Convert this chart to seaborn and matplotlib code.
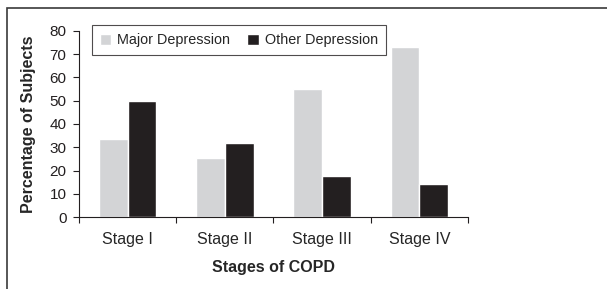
import matplotlib
matplotlib.use("Agg")
import matplotlib.pyplot as plt
import pandas as pd
import seaborn as sns
from matplotlib.patches import Rectangle

stages = ["Stage I", "Stage II", "Stage III", "Stage IV"]
major_depression = [33.5, 25.5, 55, 73]
other_depression = [50, 31.7, 17.7, 14]
series_names = ["Major Depression", "Other Depression"]
y_ticks = [0, 10, 20, 30, 40, 50, 60, 70, 80]

df = pd.DataFrame({
    "Stage": stages * 2,
    "Group": [series_names[0]] * 4 + [series_names[1]] * 4,
    "Value": major_depression + other_depression,
})

sns.set_style("ticks")
plt.rcParams["font.family"] = ["Liberation Sans", "DejaVu Sans"]

fig = plt.figure(figsize=(6.07, 2.89), dpi=100)
ax = fig.add_axes([0.130, 0.249, 0.641, 0.644])

sns.barplot(data=df, x="Stage", y="Value", hue="Group", order=stages,
            hue_order=series_names, palette=["#d3d4d6", "#231f20"],
            width=0.59, saturation=1, ax=ax, legend=True)

ax.set_ylim(0, 80)
ax.set_xlim(-0.5, 3.5)
ax.set_yticks(y_ticks)
ax.tick_params(axis="y", labelsize=11, length=4, width=0.8, colors="#231f20", pad=5)
ax.tick_params(axis="x", which="major", length=0, labelsize=11.5, pad=11)
ax.set_xticks([-0.5, 0.5, 1.5, 2.5, 3.5], minor=True)
ax.tick_params(axis="x", which="minor", length=4, width=0.8, color="#231f20")
for side in ["top", "right"]:
    ax.spines[side].set_visible(False)
for side in ["left", "bottom"]:
    ax.spines[side].set_linewidth(0.8)
    ax.spines[side].set_color("#231f20")

ax.set_xlabel("Stages of COPD", fontsize=11.5, fontweight="bold", labelpad=9)
ax.set_ylabel("Percentage of Subjects", fontsize=11.5, fontweight="bold", labelpad=10)

leg = ax.legend(loc="upper left", bbox_to_anchor=(0.033, 1.03), ncol=2, fontsize=10.4,
                frameon=True, fancybox=False, handlelength=0.8, handleheight=0.8,
                handletextpad=0.4, columnspacing=1.2, borderpad=0.55,
                borderaxespad=0)
leg.get_frame().set_edgecolor("#231f20")
leg.get_frame().set_linewidth(0.8)

# outer frame (cropped on the right and bottom)
fig.patches.append(Rectangle((7 / 607, -0.1), 1.2, 1 - 8 / 289 + 0.1,
                             transform=fig.transFigure, fill=False,
                             edgecolor="#3a3a3a", linewidth=1.2))

fig.savefig("out.png", dpi=100)
